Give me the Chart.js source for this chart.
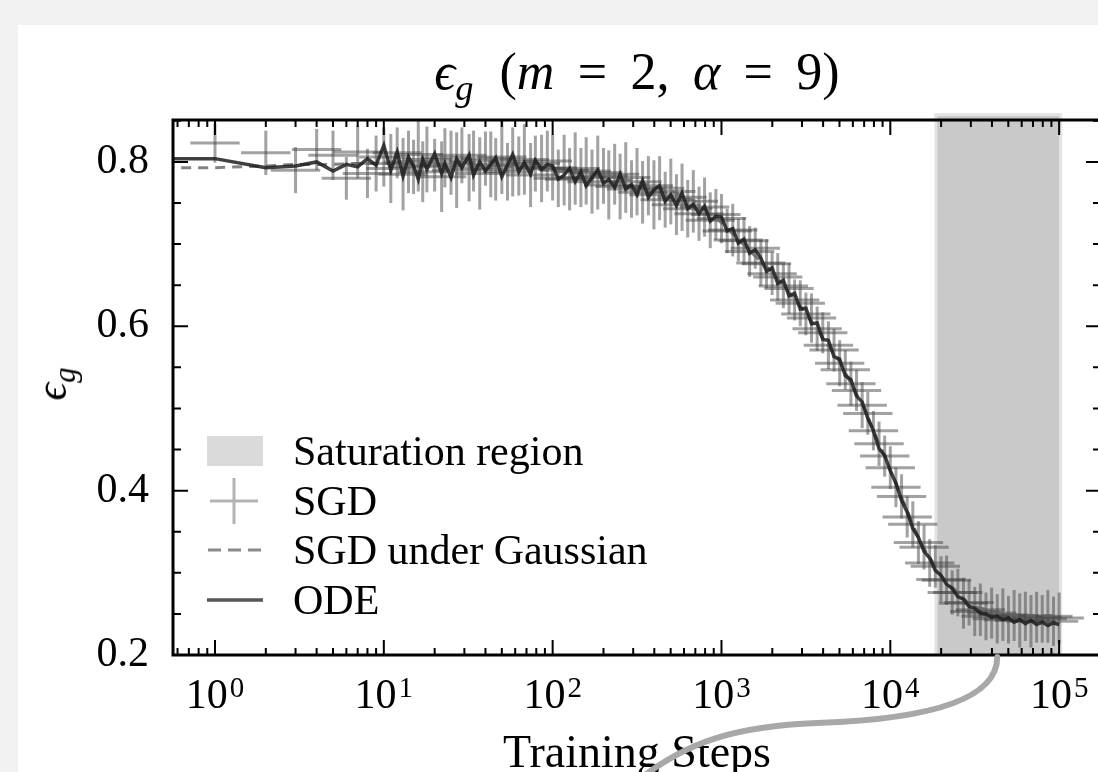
<!DOCTYPE html>
<html lang="en">
<head>
    <meta charset="UTF-8">
    <title>Generalisation error, m = 2, alpha = 9</title>
    <script src="https://cdn.jsdelivr.net/npm/chart.js"></script>
    <style>
        body {
            margin: 0;
            width: 1098px;
            height: 772px;
            overflow: hidden;
            position: relative;
            background: #f2f2f2;
            font-family: "Liberation Serif", serif;
        }

        #panel {
            position: absolute;
            left: 18px;
            top: 25px;
            width: 1200px;
            height: 800px;
            background: #fff;
        }

        #chart {
            position: absolute;
            left: 0;
            top: 0;
        }

        #title {
            position: absolute;
            left: 173px;
            width: 928px;
            top: 46px;
            text-align: center;
            font-size: 52px;
            line-height: 52px;
            word-spacing: 0.2em;
            white-space: nowrap;
            color: #000;
        }

        #title sub, #ylabel sub {
            font-size: 0.7em;
            vertical-align: -0.3em;
            line-height: 0;
        }

        #ylabel {
            position: absolute;
            left: 52px;
            top: 384px;
            font-size: 44px;
            line-height: 44px;
            white-space: nowrap;
            transform: translate(-50%, -50%) rotate(-90deg);
        }

        .row {
            position: absolute;
            left: 207px;
            height: 50px;
            display: flex;
            align-items: center;
            font-size: 42px;
            line-height: 50px;
            white-space: nowrap;
            color: #000;
        }

        .row svg {
            margin-right: 30px;
        }
    </style>
</head>
<body>
    <div id="panel"></div>
    <canvas id="chart" width="1131" height="800"></canvas>

    <div id="title"><i>ϵ</i><sub><i>g</i></sub>&ensp;(<i>m</i> = 2, <i>α</i> = 9)</div>
    <div id="ylabel"><i>ϵ</i><sub><i>g</i></sub></div>

    <!-- legend -->
    <div class="row" style="top: 426px;">
        <svg width="56" height="30"><rect width="56" height="30" fill="#dadada"/></svg>
        <span>Saturation region</span>
    </div>
    <div class="row" style="top: 476px;">
        <svg width="56" height="50">
            <line x1="3" x2="51" y1="25" y2="25" stroke="#b3b3b3" stroke-width="3"/>
            <line x1="27" x2="27" y1="2" y2="48" stroke="#b3b3b3" stroke-width="3"/>
        </svg>
        <span>SGD</span>
    </div>
    <div class="row" style="top: 525px;">
        <svg width="56" height="10"><line x1="1" x2="55" y1="5" y2="5" stroke="#8a8a8a" stroke-width="3" stroke-dasharray="13 7"/></svg>
        <span>SGD under Gaussian</span>
    </div>
    <div class="row" style="top: 575px;">
        <svg width="56" height="10"><line x1="0" x2="56" y1="5" y2="5" stroke="#555" stroke-width="3.5"/></svg>
        <span>ODE</span>
    </div>

    <script>
        // SGD runs: mean error and error bar per evaluation step
        const sgdSteps = [1, 2, 3, 4, 5, 6, 7, 8, 9,
            10, 11, 12, 13, 14, 15, 16, 17, 18, 20, 22, 23, 25, 27, 29, 32, 34, 37, 40, 43, 46, 50, 54, 58, 63, 68, 74, 79, 86, 93,
            100, 108, 117, 126, 136, 147, 158, 171, 185, 200, 215, 233, 251, 271, 293, 316, 341, 369, 398, 430, 464, 501, 541, 584, 631, 681, 736, 794, 858, 926,
            1000, 1080, 1166, 1259, 1359, 1468, 1585, 1711, 1848, 1995, 2154, 2326, 2512, 2712, 2929, 3162, 3415, 3687, 3981, 4299, 4642, 5012, 5412, 5843, 6310, 6813, 7356, 7943, 8577, 9261,
            10000, 10798, 11659, 12589, 13594, 14678, 15849, 17113, 18478, 19953, 21544, 23263, 25119, 27123, 29286, 31623, 34145, 36869, 39811, 42987, 46416, 50119, 54117, 58434, 63096, 68129, 73564, 79433, 85770, 92611, 100000];
        const sgdMean = [0.823, 0.811, 0.790, 0.815, 0.808, 0.780, 0.812, 0.786, 0.798,
            0.806, 0.792, 0.811, 0.785, 0.800, 0.794, 0.809, 0.788, 0.803, 0.796, 0.782, 0.805, 0.799, 0.790, 0.808, 0.793, 0.801, 0.786, 0.804, 0.797, 0.791, 0.806, 0.788, 0.800, 0.795, 0.803, 0.784, 0.798, 0.792, 0.801,
            0.793, 0.780, 0.790, 0.779, 0.792, 0.781, 0.789, 0.776, 0.787, 0.783, 0.772, 0.785, 0.770, 0.781, 0.767, 0.776, 0.763, 0.771, 0.760, 0.768, 0.754, 0.764, 0.748, 0.757, 0.743, 0.752, 0.737, 0.745, 0.729, 0.736,
            0.731, 0.716, 0.717, 0.705, 0.704, 0.691, 0.695, 0.677, 0.676, 0.664, 0.660, 0.649, 0.646, 0.632, 0.628, 0.615, 0.610, 0.597, 0.592, 0.577, 0.571, 0.555, 0.547, 0.530, 0.522, 0.504, 0.494, 0.473, 0.457, 0.442,
            0.428, 0.404, 0.393, 0.368, 0.359, 0.337, 0.331, 0.312, 0.308, 0.292, 0.291, 0.276, 0.276, 0.263, 0.264, 0.253, 0.255, 0.247, 0.251, 0.244, 0.249, 0.243, 0.248, 0.242, 0.247, 0.241, 0.246, 0.244, 0.247, 0.241, 0.245];
        const sgdErr = [0.024, 0.027, 0.028, 0.025, 0.030, 0.026, 0.032, 0.030, 0.034,
            0.036, 0.042, 0.031, 0.044, 0.038, 0.033, 0.045, 0.037, 0.040, 0.032, 0.043, 0.036, 0.039, 0.046, 0.034, 0.041, 0.037, 0.044, 0.033, 0.040, 0.038, 0.045, 0.035, 0.042, 0.036, 0.043, 0.039, 0.034, 0.041, 0.037,
            0.040, 0.035, 0.043, 0.038, 0.044, 0.036, 0.041, 0.039, 0.045, 0.034, 0.042, 0.037, 0.040, 0.043, 0.035, 0.041, 0.038, 0.036, 0.042, 0.039, 0.034, 0.040, 0.037, 0.041, 0.035, 0.038, 0.033, 0.036, 0.034, 0.031,
            0.030, 0.027, 0.032, 0.026, 0.029, 0.031, 0.025, 0.028, 0.030, 0.026, 0.029, 0.027, 0.031, 0.025, 0.028, 0.026, 0.030, 0.027, 0.025, 0.029, 0.026, 0.028, 0.024, 0.027, 0.025, 0.028, 0.026, 0.024, 0.027, 0.025,
            0.026, 0.024, 0.027, 0.025, 0.028, 0.026, 0.027, 0.029, 0.026, 0.028, 0.030, 0.027, 0.029, 0.031, 0.028, 0.030, 0.032, 0.029, 0.031, 0.030, 0.032, 0.029, 0.031, 0.033, 0.030, 0.032, 0.031, 0.029, 0.032, 0.030, 0.031];
        const sgdStepSpread = 1.4; // horizontal bar spans step / 1.4 .. step * 1.4

        // ODE prediction, same steps plus the starting point
        const odeSteps = [0.5].concat(sgdSteps);
        const odeValues = [0.804,
            0.804, 0.793, 0.795, 0.800, 0.789, 0.797, 0.794, 0.804, 0.796,
            0.820, 0.790, 0.812, 0.783, 0.806, 0.795, 0.779, 0.803, 0.791, 0.810, 0.786, 0.798, 0.781, 0.804, 0.793, 0.808, 0.784, 0.800, 0.789, 0.797, 0.805, 0.782, 0.796, 0.809, 0.788, 0.799, 0.785, 0.802, 0.791, 0.797,
            0.795, 0.779, 0.784, 0.792, 0.776, 0.788, 0.771, 0.781, 0.790, 0.774, 0.779, 0.769, 0.785, 0.767, 0.772, 0.760, 0.777, 0.757, 0.766, 0.771, 0.752, 0.760, 0.747, 0.762, 0.743, 0.748, 0.737, 0.746, 0.728, 0.734,
            0.733, 0.716, 0.719, 0.701, 0.706, 0.689, 0.693, 0.683, 0.667, 0.671, 0.652, 0.656, 0.637, 0.640, 0.621, 0.622, 0.603, 0.604, 0.584, 0.583, 0.563, 0.560, 0.540, 0.535, 0.515, 0.508, 0.488, 0.473, 0.451, 0.443,
            0.424, 0.409, 0.388, 0.374, 0.354, 0.343, 0.326, 0.318, 0.303, 0.297, 0.286, 0.281, 0.271, 0.268, 0.259, 0.257, 0.251, 0.250, 0.246, 0.247, 0.243, 0.245, 0.240, 0.243, 0.238, 0.242, 0.237, 0.240, 0.236, 0.239, 0.237];

        // SGD under Gaussian inputs
        const gaussSteps = [0.5, 1, 2, 3, 5, 7, 10, 15, 20, 30, 50, 70, 100, 150, 200, 300, 500, 700, 1000, 1500, 2000, 3000, 5000, 7000, 10000, 15000, 20000, 30000, 50000, 70000, 100000];
        const gaussValues = [0.793, 0.793, 0.795, 0.797, 0.797, 0.798, 0.798, 0.797, 0.797, 0.796, 0.795, 0.793, 0.789, 0.786, 0.783, 0.777, 0.765, 0.752, 0.726, 0.690, 0.666, 0.622, 0.557, 0.500, 0.425, 0.338, 0.296, 0.260, 0.249, 0.248, 0.248];

        const saturationRange = [19000, 100000];
        const connectorStep = 43000;
        const xTickValues = [1, 10, 100, 1000, 10000, 100000];
        const yTickValues = [0.2, 0.4, 0.6, 0.8];
        const xRange = [0.564, 177000];
        const yRange = [0.2, 0.851];

        const barColor = 'rgba(70, 70, 70, 0.5)';
        const serif = '"Liberation Serif", serif';

        // error bars as broken line segments (a null y ends a bar)
        const vBars = [];
        const hBars = [];
        sgdSteps.forEach((s, i) => {
            vBars.push({x: s, y: sgdMean[i] - sgdErr[i]}, {x: s, y: sgdMean[i] + sgdErr[i]}, {x: s, y: null});
            hBars.push({x: s / sgdStepSpread, y: sgdMean[i]}, {x: s * sgdStepSpread, y: sgdMean[i]}, {x: s, y: null});
        });

        // shaded region, inward ticks, frame, 10^k labels and the connector curve
        const decorations = {
            id: 'decorations',
            beforeDatasetsDraw(chart) {
                const {ctx, chartArea: a, scales: {x}} = chart;
                const x0 = x.getPixelForValue(saturationRange[0]);
                const x1 = x.getPixelForValue(saturationRange[1]);
                ctx.save();
                ctx.fillStyle = '#e4e4e4';
                ctx.fillRect(x0 - 3, a.top - 7, x1 - x0 + 6, a.bottom - a.top + 7);
                ctx.fillStyle = '#c9c9c9';
                ctx.fillRect(x0, a.top - 4, x1 - x0, a.bottom - a.top + 4);
                ctx.restore();
            },
            afterDatasetsDraw(chart) {
                const {ctx, chartArea: a, scales: {x, y}} = chart;
                ctx.save();
                ctx.strokeStyle = '#000';
                ctx.lineWidth = 2;
                ctx.beginPath();
                for (let e = -1; e <= 5; e++) {
                    for (let m = 1; m <= 9; m++) {
                        const v = m * Math.pow(10, e);
                        if (v < x.min || v > x.max) continue;
                        const px = x.getPixelForValue(v);
                        const len = m === 1 ? 15 : 7;
                        ctx.moveTo(px, a.bottom); ctx.lineTo(px, a.bottom - len);
                        ctx.moveTo(px, a.top); ctx.lineTo(px, a.top + len);
                    }
                }
                for (let k = 4; k * 0.05 <= y.max + 1e-9; k++) {
                    const py = y.getPixelForValue(k * 0.05);
                    const len = k % 4 === 0 ? 15 : 8;
                    ctx.moveTo(a.left, py); ctx.lineTo(a.left + len, py);
                    ctx.moveTo(a.right, py); ctx.lineTo(a.right - len, py);
                }
                ctx.stroke();
                ctx.lineWidth = 3;
                ctx.strokeRect(a.left, a.top, a.right - a.left, a.bottom - a.top);

                // tick labels with a raised exponent
                ctx.fillStyle = '#000';
                ctx.textBaseline = 'alphabetic';
                const base = a.bottom + 53;
                xTickValues.forEach(v => {
                    const exp = String(Math.round(Math.log10(v)));
                    ctx.font = '42px ' + serif;
                    const w1 = ctx.measureText('10').width;
                    ctx.font = '29px ' + serif;
                    const w2 = ctx.measureText(exp).width;
                    const left = x.getPixelForValue(v) - (w1 + w2 + 2) / 2;
                    ctx.font = '42px ' + serif;
                    ctx.fillText('10', left, base);
                    ctx.font = '29px ' + serif;
                    ctx.fillText(exp, left + w1 + 2, base - 11);
                });
                ctx.restore();
            },
            afterDraw(chart) {
                const {ctx, chartArea: a, scales: {x}} = chart;
                const x0 = x.getPixelForValue(connectorStep);
                const y0 = a.bottom + 2;
                ctx.save();
                ctx.strokeStyle = '#a8a8a8';
                ctx.lineWidth = 6;
                ctx.lineCap = 'round';
                ctx.beginPath();
                ctx.moveTo(x0, y0);
                ctx.bezierCurveTo(x0, y0 + 40, x0 - 60, y0 + 62, x0 - 180, y0 + 66);
                ctx.bezierCurveTo(x0 - 260, y0 + 69, x0 - 310, y0 + 84, x0 - 360, y0 + 124);
                ctx.stroke();
                ctx.restore();
            }
        };

        new Chart(document.getElementById('chart'), {
            type: 'line',
            data: {
                datasets: [
                    {
                        label: 'ODE',
                        data: odeSteps.map((s, i) => ({x: s, y: odeValues[i]})),
                        borderColor: 'rgba(30, 30, 30, 0.85)',
                        borderWidth: 3.5,
                        pointRadius: 0,
                        tension: 0
                    },
                    {
                        label: 'SGD under Gaussian',
                        data: gaussSteps.map((s, i) => ({x: s, y: gaussValues[i]})),
                        borderColor: 'rgba(100, 100, 100, 0.8)',
                        borderWidth: 3,
                        borderDash: [10, 7],
                        pointRadius: 0,
                        tension: 0
                    },
                    {
                        label: 'SGD',
                        data: vBars,
                        borderColor: barColor,
                        borderWidth: 3,
                        borderCapStyle: 'butt',
                        pointRadius: 0,
                        spanGaps: false,
                        segment: {borderColor: () => barColor}
                    },
                    {
                        label: 'SGD steps',
                        data: hBars,
                        borderColor: barColor,
                        borderWidth: 3,
                        borderCapStyle: 'butt',
                        pointRadius: 0,
                        spanGaps: false,
                        segment: {borderColor: () => barColor}
                    }
                ]
            },
            options: {
                responsive: false,
                devicePixelRatio: 1,
                animation: false,
                layout: {padding: {left: 0, top: 120, right: 30, bottom: 0}},
                plugins: {
                    legend: {display: false},
                    tooltip: {enabled: false},
                    title: {display: false}
                },
                scales: {
                    x: {
                        type: 'logarithmic',
                        min: xRange[0],
                        max: xRange[1],
                        grid: {display: false, drawTicks: false},
                        border: {display: false},
                        afterFit: scale => { scale.height = 145; },
                        afterBuildTicks: scale => { scale.ticks = xTickValues.map(v => ({value: v})); },
                        ticks: {display: false},
                        title: {
                            display: true,
                            text: 'Training Steps',
                            color: '#000',
                            font: {family: 'Liberation Serif', size: 46},
                            padding: {top: 0, bottom: 17}
                        }
                    },
                    y: {
                        type: 'linear',
                        min: yRange[0],
                        max: yRange[1],
                        grid: {display: false, drawTicks: false},
                        border: {display: false},
                        afterFit: scale => { scale.width = 173; },
                        afterBuildTicks: scale => { scale.ticks = yTickValues.map(v => ({value: v})); },
                        ticks: {
                            padding: 24,
                            color: '#000',
                            font: {family: 'Liberation Serif', size: 42},
                            callback: v => v.toFixed(1)
                        }
                    }
                }
            },
            plugins: [decorations]
        });
    </script>
</body>
</html>
